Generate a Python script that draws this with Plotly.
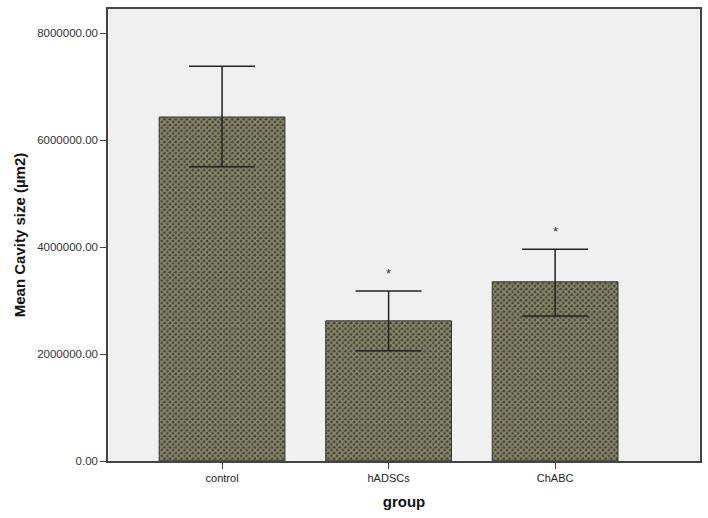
import plotly.graph_objects as go

groups = ["control", "hADSCs", "ChABC"]
means = [6430000, 2620000, 3350000]
err_plus = [950000, 560000, 610000]
err_minus = [930000, 560000, 640000]
significant = [False, True, True]
y_ticks = [0, 2000000, 4000000, 6000000, 8000000]
y_tick_labels = ["0.00", "2000000.00", "4000000.00", "6000000.00", "8000000.00"]

fig = go.Figure()
fig.add_trace(go.Bar(
    x=groups, y=means, width=0.755,
    marker=dict(
        color="#45453a",
        line=dict(color="#333333", width=1),
        pattern=dict(shape="x", fgcolor="#dcd8a2", size=4, solidity=0.6, fillmode="overlay"),
    ),
    error_y=dict(type="data", symmetric=False, array=err_plus, arrayminus=err_minus,
                 color="#222222", thickness=1.5, width=33),
))

for g, m, e, s in zip(groups, means, err_plus, significant):
    if s:
        fig.add_annotation(x=g, y=m + e, text="*", showarrow=False, yanchor="bottom",
                           yshift=8, font=dict(family="Arial", size=13, color="#333333"))

fig.update_layout(
    width=708, height=518,
    margin=dict(l=108, r=8, t=9, b=57),
    paper_bgcolor="white", plot_bgcolor="#f0f0f0",
    showlegend=False, bargap=0.2,
    font=dict(family="Arial", size=11, color="#333333"),
)
fig.update_xaxes(
    range=[-0.685, 2.87], showline=True, linecolor="#444444", linewidth=1.5, mirror=True,
    ticks="outside", ticklen=6, tickcolor="#444444", showgrid=False, automargin=False,
    title=dict(text="<b>group</b>", font=dict(family="Arial", size=15, color="#111111"), standoff=14),
    tickfont=dict(family="Arial", size=11, color="#222222"),
)
fig.update_yaxes(
    range=[0, 8449000], showline=True, linecolor="#444444", linewidth=1.5, mirror=True,
    ticks="outside", ticklen=6, tickcolor="#444444", showgrid=False, zeroline=False, automargin=False,
    tickvals=y_ticks, ticktext=y_tick_labels,
    tickfont=dict(family="Arial", size=11.5, color="#333333"),
    title=dict(text="<b>Mean Cavity size (µm2)</b>", font=dict(family="Arial", size=15, color="#111111"), standoff=8),
)

fig.write_html("out.html", config={"displayModeBar": False},
               post_script="document.body.style.margin='0';")
